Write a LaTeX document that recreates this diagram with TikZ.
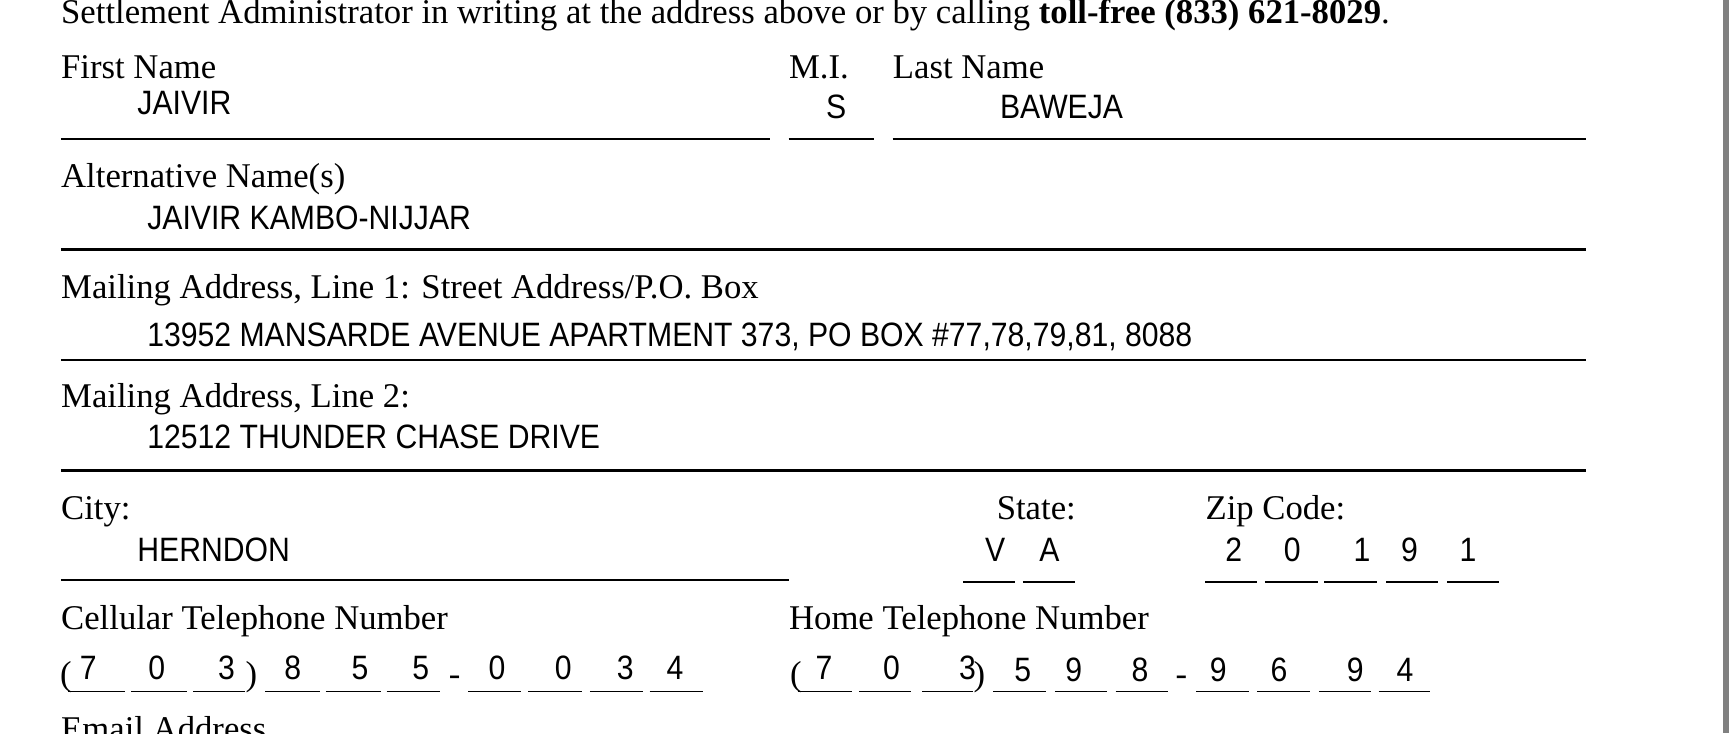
\documentclass[tikz,border=0pt]{standalone}
\usepackage{fontspec}
\setmainfont{Liberation Serif}
\setsansfont{Liberation Sans}
\usepackage{graphicx}
\newcommand{\lblfont}{\rmfamily\fontsize{15.7}{18}\selectfont}
\newcommand{\entfont}{\sffamily\fontsize{13.66}{16}\selectfont}
\newcommand{\tallent}[1]{\scalebox{1}[1.12]{#1}}
\begin{document}
\begin{tikzpicture}[x=0.5pt, y=-0.5pt,
  lbl/.style={anchor=base west, inner sep=0, font=\lblfont},
  entry/.style={anchor=base west, inner sep=0, font=\entfont},
  digit/.style={anchor=base, inner sep=0, font=\entfont},
  rule/.style={line width=1.1pt},
  blank/.style={line width=0.8pt}]
\useasboundingbox (0,0) rectangle (1568,664);
\fill[white] (0,0) rectangle (1568,664);
% Borde derecho
\fill[gray] (1560,0) rectangle (1565,664);
% Encabezado
\node[lbl] (intro) at (55,21) {Settlement Administrator in writing at the address above or by calling \textbf{toll-free (833) 621-8029}.};
% Nombre
\node[lbl] (first) at (55,71) {First Name};
\node[lbl] (mi) at (714,71) {M.I.};
\node[lbl] (last) at (808,71) {Last Name};
\node[entry] (firstval) at (124,104) {\tallent{JAIVIR}};
\node[digit] (mival) at (757,107) {\tallent{S}};
\node[entry] (lastval) at (905,107) {\tallent{BAWEJA}};
\draw[rule] (55,126) -- (697,126);
\draw[rule] (714,126) -- (791,126);
\draw[rule] (808,126) -- (1436,126);
% Nombres alternativos
\node[lbl] (alt) at (55,170) {Alternative Name(s)};
\node[entry] (altval) at (133,208) {\tallent{JAIVIR KAMBO-NIJJAR}};
\draw[rule] (55,226) -- (1436,226);
% Direccion 1
\node[lbl] (addr1) at (55,270) {Mailing Address, Line 1: Street Address/P.O. Box};
\node[entry] (addr1val) at (133,314) {\tallent{13952 MANSARDE AVENUE APARTMENT 373, PO BOX \#77,78,79,81, 8088}};
\draw[rule] (55,326) -- (1436,326);
% Direccion 2
\node[lbl] (addr2) at (55,369) {Mailing Address, Line 2:};
\node[entry] (addr2val) at (133,406) {\tallent{12512 THUNDER CHASE DRIVE}};
\draw[rule] (55,426) -- (1436,426);
% Ciudad, estado, codigo postal
\node[lbl] (city) at (55,470) {City:};
\node[lbl] (state) at (902,470) {State:};
\node[lbl] (zip) at (1091,470) {Zip Code:};
\node[entry] (cityval) at (124,508) {\tallent{HERNDON}};
\draw[rule] (55,525) -- (714,525);
\node[digit] (st1) at (901,508) {\tallent{V}};
\node[digit] (st2) at (950,508) {\tallent{A}};
\draw[blank] (872,527) -- (919,527);
\draw[blank] (926,527) -- (973,527);
\node[digit] (zip1) at (1117,508) {\tallent{2}};
\node[digit] (zip2) at (1170,508) {\tallent{0}};
\node[digit] (zip3) at (1233,508) {\tallent{1}};
\node[digit] (zip4) at (1276,508) {\tallent{9}};
\node[digit] (zip5) at (1329,508) {\tallent{1}};
\draw[blank] (1091,527) -- (1138,527);
\draw[blank] (1145,527) -- (1193,527);
\draw[blank] (1199,527) -- (1247,527);
\draw[blank] (1255,527) -- (1302,527);
\draw[blank] (1310,527) -- (1357,527);
% Telefono celular
\node[lbl] (cell) at (55,570) {Cellular Telephone Number};
\node[lbl] (cellopen) at (54,621) {(};
\node[lbl] (cellclose) at (222,621) {)};
\node[lbl] (celldash) at (406,621) {-};
\draw[blank] (62,626) -- (113,626);
\draw[blank] (119,626) -- (169,626);
\draw[blank] (175,626) -- (222,626);
\draw[blank] (240,626) -- (290,626);
\draw[blank] (295,626) -- (345,626);
\draw[blank] (350,626) -- (398,626);
\draw[blank] (424,626) -- (472,626);
\draw[blank] (478,626) -- (527,626);
\draw[blank] (534,626) -- (582,626);
\draw[blank] (588,626) -- (636,626);
\node[digit] (c1) at (80,615) {\tallent{7}};
\node[digit] (c2) at (142,615) {\tallent{0}};
\node[digit] (c3) at (205,615) {\tallent{3}};
\node[digit] (c4) at (265,615) {\tallent{8}};
\node[digit] (c5) at (326,615) {\tallent{5}};
\node[digit] (c6) at (381,615) {\tallent{5}};
\node[digit] (c7) at (450,615) {\tallent{0}};
\node[digit] (c8) at (510,615) {\tallent{0}};
\node[digit] (c9) at (566,615) {\tallent{3}};
\node[digit] (c10) at (611,615) {\tallent{4}};
% Telefono de casa
\node[lbl] (home) at (714,570) {Home Telephone Number};
\node[lbl] (homeopen) at (715,621) {(};
\node[lbl] (homeclose) at (881,621) {)};
\node[lbl] (homedash) at (1064,621) {-};
\draw[blank] (722,626) -- (771,626);
\draw[blank] (778,626) -- (825,626);
\draw[blank] (835,626) -- (881,626);
\draw[blank] (899,626) -- (947,626);
\draw[blank] (955,626) -- (1002,626);
\draw[blank] (1010,626) -- (1057,626);
\draw[blank] (1083,626) -- (1131,626);
\draw[blank] (1138,626) -- (1186,626);
\draw[blank] (1194,626) -- (1241,626);
\draw[blank] (1248,626) -- (1295,626);
\node[digit] (h1) at (746,615) {\tallent{7}};
\node[digit] (h2) at (807,615) {\tallent{0}};
\node[digit] (h3) at (876,615) {\tallent{3}};
\node[digit] (h4) at (926,617) {\tallent{5}};
\node[digit] (h5) at (972,617) {\tallent{9}};
\node[digit] (h6) at (1032,617) {\tallent{8}};
\node[digit] (h7) at (1103,617) {\tallent{9}};
\node[digit] (h8) at (1158,617) {\tallent{6}};
\node[digit] (h9) at (1227,617) {\tallent{9}};
\node[digit] (h10) at (1272,617) {\tallent{4}};
% Correo
\node[lbl] (email) at (55,670) {Email Address};
\end{tikzpicture}
\end{document}
